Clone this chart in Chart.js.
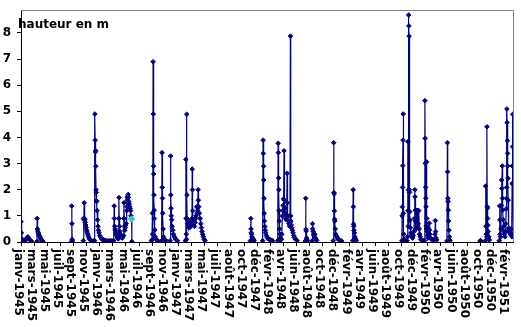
<!DOCTYPE html>
<html>
<head>
<meta charset="utf-8">
<script src="https://cdn.jsdelivr.net/npm/chart.js@4.4.0/dist/chart.umd.min.js"></script>
<style>
  html, body { margin: 0; padding: 0; background: #fff; }
  canvas { display: block; }
</style>
</head>
<body>
<canvas id="chart" width="521" height="327"></canvas>
<script>
// relevés [date, hauteur en m] ; null = pas de mesure
const releves1945 = [
    ['1945-01-12', 0.78], ['1945-01-14', 0.35], ['1945-01-16', 0.12], ['1945-01-18', 0.05], ['1945-01-22', 0.03],
    ['1945-01-30', 0.05], ['1945-02-04', 0.1], ['1945-02-08', 0.15], ['1945-02-12', 0.2], ['1945-02-15', 0.15],
    ['1945-02-20', 0.1], ['1945-02-24', 0.06], ['1945-03-01', 0.03], ['1945-03-10', null],
    ['1945-03-26', 0.02], ['1945-03-27', 0.9], ['1945-03-28', 0.5], ['1945-03-30', 0.42], ['1945-04-01', 0.36],
    ['1945-04-03', 0.3], ['1945-04-05', 0.25], ['1945-04-08', 0.2], ['1945-04-11', 0.15], ['1945-04-14', 0.1],
    ['1945-04-18', 0.06], ['1945-04-22', 0.03], ['1945-06-01', null],
    ['1945-08-31', 0.02], ['1945-09-01', 1.38], ['1945-09-02', 0.7], ['1945-09-03', 0.1], ['1945-09-04', 0.04],
    ['1945-10-01', null],
    ['1945-10-24', 0.05], ['1945-10-25', 0.9], ['1945-10-27', 0.85], ['1945-10-28', 1.5], ['1945-10-29', 0.9],
    ['1945-10-31', 0.85], ['1945-11-02', 0.75], ['1945-11-04', 0.65], ['1945-11-06', 0.55], ['1945-11-08', 0.45],
    ['1945-11-10', 0.38], ['1945-11-13', 0.3], ['1945-11-16', 0.22], ['1945-11-19', 0.15], ['1945-11-23', 0.1],
    ['1945-11-27', 0.06], ['1945-12-01', 0.04], ['1945-12-06', 0.03], ['1945-12-12', 0.05], ['1945-12-14', 0.05],
    ['1945-12-16', 4.9], ['1945-12-17', 3.9], ['1945-12-18', 3.45], ['1945-12-19', 3.5], ['1945-12-20', 2.9],
    ['1945-12-21', 2.0], ['1945-12-22', 1.9], ['1945-12-23', 1.58], ['1945-12-24', 1.55], ['1945-12-26', 1.2],
    ['1945-12-28', 0.85], ['1945-12-30', 0.6]
];
const releves1946 = [
    ['1946-01-01', 0.45], ['1946-01-04', 0.35], ['1946-01-07', 0.25], ['1946-01-11', 0.18], ['1946-01-15', 0.12],
    ['1946-01-20', 0.1], ['1946-01-25', 0.08], ['1946-02-01', 0.06], ['1946-02-08', 0.05], ['1946-02-15', 0.04],
    ['1946-02-22', 0.05], ['1946-03-01', 0.04], ['1946-03-06', 0.04], ['1946-03-12', 0.05], ['1946-03-14', 1.38],
    ['1946-03-15', 0.9], ['1946-03-16', 0.6], ['1946-03-18', 0.5], ['1946-03-20', 0.45], ['1946-03-22', 0.35],
    ['1946-03-24', 0.3], ['1946-03-26', 0.25], ['1946-03-28', 0.2], ['1946-03-30', 0.15], ['1946-04-02', 0.12],
    ['1946-04-04', 0.9], ['1946-04-05', 1.7], ['1946-04-06', 0.9], ['1946-04-07', 0.6], ['1946-04-09', 0.4],
    ['1946-04-11', 0.3], ['1946-04-14', 0.22], ['1946-04-17', 0.18], ['1946-04-20', 0.15], ['1946-04-23', 0.2],
    ['1946-04-26', 0.25], ['1946-04-27', 0.9], ['1946-04-28', 1.5], ['1946-04-29', 0.9], ['1946-04-30', 0.6],
    ['1946-05-02', 0.45], ['1946-05-04', 0.55], ['1946-05-06', 0.65], ['1946-05-08', 0.7], ['1946-05-10', 1.2],
    ['1946-05-11', 1.35], ['1946-05-12', 1.5], ['1946-05-13', 1.6], ['1946-05-14', 1.7], ['1946-05-15', 1.75],
    ['1946-05-17', 1.82], ['1946-05-18', 1.7], ['1946-05-20', 1.55], ['1946-05-22', 1.45], ['1946-05-24', 1.35],
    ['1946-05-26', 1.28], ['1946-05-28', 1.2], ['1946-05-30', 1.0], ['1946-06-02', 0.88], ['1946-06-03', 0.02],
    ['1946-07-01', null],
    ['1946-09-01', 0.05], ['1946-09-03', 0.08], ['1946-09-05', 1.1], ['1946-09-06', 0.3], ['1946-09-07', 0.1],
    ['1946-09-08', 6.9], ['1946-09-09', 4.9], ['1946-09-10', 2.9], ['1946-09-11', 2.6], ['1946-09-12', 1.8],
    ['1946-09-13', 1.22], ['1946-09-14', 0.9], ['1946-09-16', 0.46], ['1946-09-18', 0.2], ['1946-09-20', 0.1],
    ['1946-09-23', 0.08], ['1946-09-26', 0.06], ['1946-09-30', 0.05], ['1946-10-10', null],
    ['1946-10-17', 0.05], ['1946-10-19', 3.42], ['1946-10-20', 2.09], ['1946-10-21', 1.67], ['1946-10-22', 1.1],
    ['1946-10-24', 0.5], ['1946-10-26', 0.2], ['1946-10-28', 0.1], ['1946-11-02', 0.08], ['1946-11-06', 0.06],
    ['1946-11-15', null],
    ['1946-11-25', 0.05], ['1946-11-27', 3.29], ['1946-11-28', 1.8], ['1946-11-29', 1.29], ['1946-11-30', 1.0],
    ['1946-12-02', 0.85], ['1946-12-04', 0.6], ['1946-12-07', 0.45], ['1946-12-10', 0.3], ['1946-12-14', 0.2],
    ['1946-12-19', 0.12], ['1946-12-24', 0.08], ['1946-12-28', 0.05]
];
const releves1947 = [
    ['1947-01-15', null],
    ['1947-02-03', 0.05], ['1947-02-05', 3.16], ['1947-02-06', 0.9], ['1947-02-07', 0.3], ['1947-02-08', 0.1],
    ['1947-02-09', 4.89], ['1947-02-10', 1.8], ['1947-02-11', 0.9], ['1947-02-13', 0.7], ['1947-02-16', 0.6],
    ['1947-02-19', 0.55], ['1947-02-22', 0.65], ['1947-02-25', 0.8], ['1947-02-28', 0.6], ['1947-03-03', 0.7],
    ['1947-03-05', 0.9], ['1947-03-06', 2.79], ['1947-03-07', 2.0], ['1947-03-08', 1.2], ['1947-03-10', 0.8],
    ['1947-03-13', 0.65], ['1947-03-16', 0.6], ['1947-03-19', 0.75], ['1947-03-22', 0.9], ['1947-03-24', 1.0],
    ['1947-03-26', 1.35], ['1947-03-28', 1.1], ['1947-03-30', 1.2], ['1947-04-02', 2.0], ['1947-04-03', 1.6],
    ['1947-04-05', 1.35], ['1947-04-08', 1.1], ['1947-04-11', 0.9], ['1947-04-14', 0.7], ['1947-04-17', 0.55],
    ['1947-04-20', 0.4], ['1947-04-23', 0.3], ['1947-04-26', 0.2], ['1947-04-30', 0.1], ['1947-05-04', 0.05],
    ['1947-06-01', null],
    ['1947-11-27', 0.05], ['1947-11-29', 0.9], ['1947-11-30', 0.5], ['1947-12-01', 0.35], ['1947-12-02', 0.3],
    ['1947-12-04', 0.2], ['1947-12-06', 0.15], ['1947-12-08', 0.1], ['1947-12-10', 0.12], ['1947-12-12', 0.08],
    ['1947-12-14', 0.05]
];
const releves1948 = [
    ['1948-01-01', null],
    ['1948-01-22', 0.05], ['1948-01-24', 3.9], ['1948-01-25', 3.39], ['1948-01-26', 2.9], ['1948-01-27', 2.37],
    ['1948-01-28', 1.67], ['1948-01-29', 1.1], ['1948-01-30', 0.8], ['1948-02-01', 0.59], ['1948-02-03', 0.45],
    ['1948-02-05', 0.35], ['1948-02-08', 0.25], ['1948-02-12', 0.18], ['1948-02-16', 0.12], ['1948-02-21', 0.1],
    ['1948-02-26', 0.08], ['1948-03-03', 0.06], ['1948-03-08', 0.05], ['1948-03-20', null],
    ['1948-03-31', 0.05], ['1948-04-02', 3.78], ['1948-04-03', 3.42], ['1948-04-04', 2.45], ['1948-04-05', 2.0],
    ['1948-04-06', 1.2], ['1948-04-07', 0.8], ['1948-04-08', 0.5], ['1948-04-10', 0.3], ['1948-04-12', 0.15],
    ['1948-04-14', 0.08], ['1948-04-17', 0.1], ['1948-04-19', 0.3], ['1948-04-21', 1.0], ['1948-04-23', 1.2],
    ['1948-04-25', 1.4], ['1948-04-27', 1.65], ['1948-04-29', 3.49], ['1948-04-30', 1.6], ['1948-05-02', 1.3],
    ['1948-05-04', 1.1], ['1948-05-06', 0.9], ['1948-05-09', 0.85], ['1948-05-11', 1.0], ['1948-05-13', 2.63],
    ['1948-05-14', 1.5], ['1948-05-16', 1.0], ['1948-05-18', 0.8], ['1948-05-21', 0.7], ['1948-05-24', 0.6],
    ['1948-05-26', 0.75], ['1948-05-28', 7.88], ['1948-05-29', 1.0], ['1948-05-30', 0.8], ['1948-06-01', 0.65],
    ['1948-06-03', 0.55], ['1948-06-06', 0.45], ['1948-06-09', 0.35], ['1948-06-12', 0.25], ['1948-06-15', 0.18],
    ['1948-06-19', 0.12], ['1948-06-23', 0.08], ['1948-06-27', 0.05], ['1948-07-15', null],
    ['1948-08-04', 0.04], ['1948-08-06', 1.67], ['1948-08-07', 0.49], ['1948-08-08', 0.42], ['1948-08-10', 0.15],
    ['1948-08-12', 0.08], ['1948-08-14', 0.05], ['1948-08-25', null],
    ['1948-09-04', 0.04], ['1948-09-06', 0.7], ['1948-09-07', 0.5], ['1948-09-09', 0.4], ['1948-09-11', 0.3],
    ['1948-09-13', 0.25], ['1948-09-15', 0.2], ['1948-09-17', 0.3], ['1948-09-19', 0.15], ['1948-09-22', 0.1],
    ['1948-09-25', 0.06], ['1948-10-15', null],
    ['1948-12-10', 0.05], ['1948-12-12', 3.8], ['1948-12-13', 1.89], ['1948-12-14', 1.84], ['1948-12-15', 1.19],
    ['1948-12-16', 0.87], ['1948-12-17', 0.8], ['1948-12-19', 0.5], ['1948-12-21', 0.3], ['1948-12-23', 0.25],
    ['1948-12-26', 0.2], ['1948-12-29', 0.15]
];
const releves1949 = [
    ['1949-01-02', 0.1], ['1949-01-07', 0.07], ['1949-01-12', 0.05], ['1949-01-17', 0.04], ['1949-02-01', null],
    ['1949-03-09', 0.05], ['1949-03-11', 2.0], ['1949-03-12', 1.35], ['1949-03-13', 0.68], ['1949-03-14', 0.6],
    ['1949-03-15', 0.45], ['1949-03-17', 0.35], ['1949-03-19', 0.2], ['1949-03-22', 0.12], ['1949-03-26', 0.06],
    ['1949-05-01', null],
    ['1949-10-20', 0.05], ['1949-10-21', 1.0], ['1949-10-22', 1.35], ['1949-10-23', 2.09], ['1949-10-24', 2.92],
    ['1949-10-25', 3.9], ['1949-10-26', 4.9], ['1949-10-27', 1.1], ['1949-10-28', 0.3], ['1949-10-30', 0.1],
    ['1949-11-02', 0.05], ['1949-11-06', 0.05], ['1949-11-12', 0.05], ['1949-11-15', 0.2], ['1949-11-16', 3.84],
    ['1949-11-17', 1.2], ['1949-11-18', 0.6], ['1949-11-19', 2.0], ['1949-11-20', 8.69], ['1949-11-21', 8.27],
    ['1949-11-22', 7.88], ['1949-11-23', 2.0], ['1949-11-24', 1.9], ['1949-11-25', 1.16], ['1949-11-26', 0.84],
    ['1949-11-28', 0.55], ['1949-11-30', 0.35], ['1949-12-02', 0.25], ['1949-12-05', 0.2], ['1949-12-08', 0.15],
    ['1949-12-11', 0.25], ['1949-12-14', 0.4], ['1949-12-16', 0.9], ['1949-12-18', 2.0], ['1949-12-19', 1.73],
    ['1949-12-20', 1.22], ['1949-12-21', 0.8], ['1949-12-23', 0.5], ['1949-12-25', 1.2], ['1949-12-26', 0.9],
    ['1949-12-28', 1.2], ['1949-12-30', 0.6]
];
const releves1950 = [
    ['1950-01-01', 1.2], ['1950-01-03', 0.7], ['1950-01-05', 1.2], ['1950-01-07', 0.5], ['1950-01-09', 0.3],
    ['1950-01-12', 0.2], ['1950-01-14', 0.1], ['1950-01-20', 0.06], ['1950-01-26', 0.05], ['1950-01-31', 0.05],
    ['1950-02-02', 5.41], ['1950-02-03', 3.97], ['1950-02-04', 3.01], ['1950-02-05', 2.09], ['1950-02-06', 1.67],
    ['1950-02-07', 1.35], ['1950-02-08', 0.61], ['1950-02-09', 0.5], ['1950-02-10', 3.07], ['1950-02-11', 0.9],
    ['1950-02-12', 0.4], ['1950-02-14', 0.25], ['1950-02-16', 0.15], ['1950-02-18', 0.3], ['1950-02-20', 0.5],
    ['1950-02-22', 0.72], ['1950-02-23', 0.45], ['1950-02-25', 0.3], ['1950-02-28', 0.15], ['1950-03-04', 0.1],
    ['1950-03-10', 0.08], ['1950-03-16', 0.1], ['1950-03-20', 0.3], ['1950-03-22', 0.82], ['1950-03-23', 0.4],
    ['1950-03-25', 0.15], ['1950-03-28', 0.08], ['1950-04-10', null],
    ['1950-05-14', 0.04], ['1950-05-16', 3.8], ['1950-05-17', 2.69], ['1950-05-18', 1.67], ['1950-05-19', 1.55],
    ['1950-05-20', 1.22], ['1950-05-21', 0.8], ['1950-05-23', 0.45], ['1950-05-25', 0.2], ['1950-05-28', 0.06],
    ['1950-07-01', null],
    ['1950-10-13', 0.04], ['1950-10-14', 0.05], ['1950-10-16', 0.04], ['1950-10-25', null],
    ['1950-11-05', 0.05], ['1950-11-07', 2.14], ['1950-11-08', 0.6], ['1950-11-10', 0.3], ['1950-11-12', 0.2],
    ['1950-11-13', 4.41], ['1950-11-14', 1.35], ['1950-11-15', 1.3], ['1950-11-16', 0.9], ['1950-11-17', 0.64],
    ['1950-11-19', 0.4], ['1950-11-21', 0.2], ['1950-11-24', 0.08], ['1950-12-15', null]
];
const releves1951 = [
    ['1951-01-08', 0.05], ['1951-01-10', 1.38], ['1951-01-11', 0.85], ['1951-01-12', 0.3], ['1951-01-14', 0.2],
    ['1951-01-16', 0.5], ['1951-01-18', 1.4], ['1951-01-19', 2.37], ['1951-01-20', 2.05], ['1951-01-22', 2.91],
    ['1951-01-23', 1.67], ['1951-01-24', 1.22], ['1951-01-26', 0.85], ['1951-01-28', 0.6], ['1951-01-30', 0.4],
    ['1951-02-01', 0.3], ['1951-02-03', 0.2], ['1951-02-05', 0.4], ['1951-02-07', 0.7], ['1951-02-09', 1.27],
    ['1951-02-10', 1.67], ['1951-02-11', 2.09], ['1951-02-12', 5.09], ['1951-02-13', 4.57], ['1951-02-14', 3.88],
    ['1951-02-15', 3.39], ['1951-02-16', 2.91], ['1951-02-17', 2.44], ['1951-02-18', 1.6], ['1951-02-19', 0.52],
    ['1951-02-21', 0.4], ['1951-02-23', 0.5], ['1951-02-25', 0.35], ['1951-02-27', 0.45], ['1951-03-01', 0.3],
    ['1951-03-03', 0.5], ['1951-03-05', 0.25], ['1951-03-07', 0.2], ['1951-03-08', 2.24], ['1951-03-09', 2.91],
    ['1951-03-10', 3.65], ['1951-03-11', 4.89], ['1951-03-13', 0.3]
];
const pointSignale = '1946-06-02';

// axe des dates : une graduation tous les 60 jours
const axeDebut = '1945-01-12';
const axeFin = '1951-03-12';
const pasJours = 60;
const xTickLabels = ['janv-1945', 'mars-1945', 'mai-1945', 'juil-1945', 'sept-1945', 'nov-1945',
    'janv-1946', 'mars-1946', 'mai-1946', 'juil-1946', 'sept-1946', 'nov-1946',
    'janv-1947', 'mars-1947', 'mai-1947', 'juil-1947', 'août-1947', 'oct-1947', 'déc-1947',
    'févr-1948', 'avr-1948', 'juin-1948', 'août-1948', 'oct-1948', 'déc-1948',
    'févr-1949', 'avr-1949', 'juin-1949', 'août-1949', 'oct-1949', 'déc-1949',
    'févr-1950', 'avr-1950', 'juin-1950', 'août-1950', 'oct-1950', 'déc-1950', 'févr-1951'];
const yMax = 8.88;

const jour = s => {
    const [a, m, j] = s.split('-').map(Number);
    return (Date.UTC(a, m - 1, j) - Date.UTC(1945, 0, 12)) / 86400000;
};

const releves = [].concat(releves1945, releves1946, releves1947, releves1948, releves1949, releves1950, releves1951);
const points = releves.map(([d, h]) => ({ x: jour(d), y: h, date: d }));

const navy = '#000080';
const cyan = '#33CCCC';
const font = { family: 'DejaVu Sans', weight: 'bold', size: 12 };

const decor = {
    id: 'decor',
    beforeDatasetsDraw(chart) {
        const { ctx, chartArea: a } = chart;
        ctx.save();
        ctx.strokeStyle = '#808080';
        ctx.lineWidth = 1;
        ctx.beginPath();
        ctx.moveTo(a.left, a.top + 0.5);
        ctx.lineTo(a.right + 0.5, a.top + 0.5);
        ctx.lineTo(a.right + 0.5, a.bottom);
        ctx.stroke();
        ctx.restore();
    },
    afterDraw(chart) {
        const { ctx } = chart;
        const x = chart.scales.x;
        ctx.save();
        ctx.font = 'bold 12px "DejaVu Sans"';
        ctx.fillStyle = '#000';
        ctx.textAlign = 'left';
        ctx.textBaseline = 'middle';
        ctx.fillText('hauteur en m', 18, 25);
        ctx.textBaseline = 'alphabetic';
        x.ticks.forEach((t, i) => {
            const px = x.getPixelForValue(t.value);
            ctx.save();
            ctx.translate(px, 249);
            ctx.rotate(Math.PI / 2);
            ctx.fillText(xTickLabels[i], 0, 6.4);
            ctx.restore();
        });
        ctx.restore();
    }
};

new Chart(document.getElementById('chart'), {
    type: 'line',
    data: {
        datasets: [{
            label: 'hauteur en m',
            data: points,
            borderColor: navy,
            borderWidth: 1.2,
            tension: 0,
            spanGaps: false,
            pointStyle: 'rectRot',
            pointRadius: c => (c.raw && c.raw.date === pointSignale ? 3.3 : 2.3),
            pointBorderWidth: 1,
            pointBackgroundColor: c => (c.raw && c.raw.date === pointSignale ? cyan : navy),
            pointBorderColor: c => (c.raw && c.raw.date === pointSignale ? cyan : navy)
        }]
    },
    options: {
        responsive: false,
        animation: false,
        layout: { padding: { top: 10, right: 8, left: 0, bottom: 0 } },
        plugins: { legend: { display: false }, tooltip: { enabled: false } },
        scales: {
            x: {
                type: 'linear',
                min: 0,
                max: jour(axeFin),
                afterBuildTicks: s => { s.ticks = xTickLabels.map((l, i) => ({ value: jour(axeDebut) + i * pasJours })); },
                ticks: { display: false },
                grid: { drawOnChartArea: false, drawTicks: true, tickLength: 4, color: '#000' },
                border: { color: '#000', width: 1 },
                afterFit: s => { s.height = 85; s.paddingLeft = 0; s.paddingRight = 0; }
            },
            y: {
                min: 0,
                max: yMax,
                afterBuildTicks: s => { s.ticks = s.ticks.filter(t => Number.isInteger(t.value)); },
                ticks: { stepSize: 1, color: '#000', font: font, padding: 6 },
                grid: { drawOnChartArea: false, drawTicks: true, tickLength: 4, color: '#000' },
                border: { color: '#000', width: 1 },
                afterFit: s => { s.width = 21; s.paddingTop = 0; s.paddingBottom = 0; }
            }
        }
    },
    plugins: [decor]
});
</script>
</body>
</html>
